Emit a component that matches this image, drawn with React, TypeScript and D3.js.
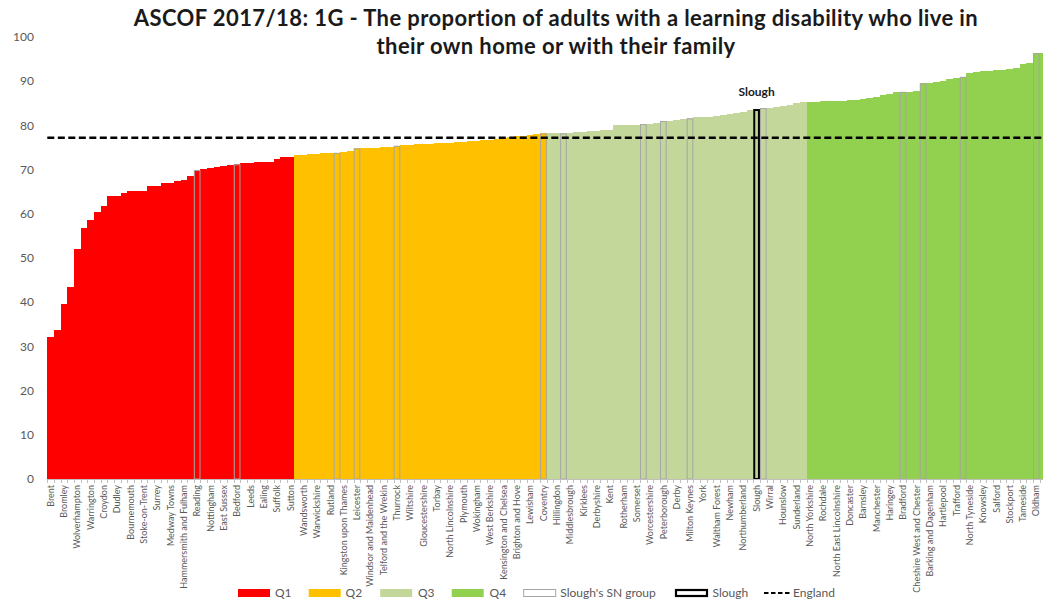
import React from 'react';
import * as d3 from 'd3';

// ---- Data (ranked ascending) ----
const q1Values = [32.1, 33.7, 39.6, 43.5, 52.0, 56.7, 58.6, 60.3, 61.8, 64.0, 64.1, 64.8, 65.1, 65.2, 65.2, 66.3, 66.3, 66.9, 66.9, 67.4, 67.6, 68.6, 69.9, 70.2, 70.4, 70.7, 70.8, 71.1, 71.2, 71.4, 71.6, 71.7, 71.8, 71.8, 72.3, 72.9, 72.9];
const q2Values = [73.2, 73.4, 73.5, 73.6, 73.7, 73.8, 73.8, 74.0, 74.1, 74.8, 74.8, 74.9, 75.0, 75.1, 75.2, 75.4, 75.5, 75.6, 75.7, 75.8, 75.9, 76.0, 76.0, 76.1, 76.2, 76.3, 76.4, 76.5, 76.6, 76.8, 77.0, 77.1, 77.3, 77.5, 77.6, 77.8, 78.0, 78.2];
const q3Values = [78.2, 78.2, 78.2, 78.3, 78.4, 78.5, 78.7, 78.8, 78.9, 79.0, 80.0, 80.1, 80.2, 80.2, 80.3, 80.4, 80.5, 81.0, 81.1, 81.2, 81.4, 81.6, 81.8, 81.9, 82.0, 82.2, 82.4, 82.6, 82.9, 83.1, 83.4, 83.7, 83.9, 84.0, 84.2, 84.4, 84.7, 85.0, 85.2];
const q4Values = [85.4, 85.4, 85.5, 85.5, 85.6, 85.6, 85.7, 85.8, 85.9, 86.2, 86.5, 86.8, 87.2, 87.6, 87.6, 87.6, 87.7, 89.5, 89.7, 89.8, 90.1, 90.6, 90.7, 91.0, 91.8, 92.0, 92.4, 92.4, 92.5, 92.6, 92.7, 92.9, 93.9, 94.2, 96.3, 96.3];

// tick labels shown on every other bar (ranks 1, 3, 5, ...)
const q1Labels = ['Brent', 'Bromley', 'Wolverhampton', 'Warrington', 'Croydon', 'Dudley', 'Bournemouth', 'Stoke-on-Trent', 'Surrey', 'Medway Towns', 'Hammersmith and Fulham', 'Reading', 'Nottingham', 'East Sussex', 'Bedford', 'Leeds', 'Ealing', 'Suffolk', 'Sutton'];
const q2Labels = ['Wandsworth', 'Warwickshire', 'Rutland', 'Kingston upon Thames', 'Leicester', 'Windsor and Maidenhead', 'Telford and the Wrekin', 'Thurrock', 'Wiltshire', 'Gloucestershire', 'Torbay', 'North Lincolnshire', 'Plymouth', 'Wokingham', 'West Berkshire', 'Kensington and Chelsea', 'Brighton and Hove', 'Lewisham', 'Coventry'];
const q3Labels = ['Hillingdon', 'Middlesbrough', 'Kirklees', 'Derbyshire', 'Kent', 'Rotherham', 'Somerset', 'Worcestershire', 'Peterborough', 'Derby', 'Milton Keynes', 'York', 'Waltham Forest', 'Newham', 'Northumberland', 'Slough', 'Wirral', 'Hounslow', 'Sunderland'];
const q4Labels = ['North Yorkshire', 'Rochdale', 'North East Lincolnshire', 'Doncaster', 'Barnsley', 'Manchester', 'Haringey', 'Bradford', 'Cheshire West and Chester', 'Barking and Dagenham', 'Hartlepool', 'Trafford', 'North Tyneside', 'Knowsley', 'Salford', 'Stockport', 'Tameside', 'Oldham'];

const snRanks = [23, 29, 44, 47, 53, 75, 78, 90, 93, 97, 108, 129, 132, 138, 149];
const sloughRank = 107;
const englandValue = 77.2;
const yTicks = [0, 10, 20, 30, 40, 50, 60, 70, 80, 90, 100];
const quartileColors = ['#FF0000', '#FFC000', '#C4D79B', '#92D050'];
const titleLines = [
  'ASCOF 2017/18: 1G - The proportion of adults with a learning disability who live in',
  'their own home or with their family',
];

const W = 1043;
const H = 603;
const FONT = 'Lato, "Open Sans", sans-serif';
const GREY_TEXT = '#595959';

export default function App() {
  const bars = [q1Values, q2Values, q3Values, q4Values].flatMap((vals, q) =>
    vals.map((v) => ({ v, q }))
  ).map((d, i) => ({ ...d, rank: i + 1 }));
  const labels = [...q1Labels, ...q2Labels, ...q3Labels, ...q4Labels];

  const x = d3
    .scaleBand<number>()
    .domain(bars.map((b) => b.rank))
    .range([47.3, 47.3 + 6.66 * bars.length])
    .padding(0);
  const y = d3.scaleLinear().domain([0, 100]).range([479, 37]);
  const bw = x.bandwidth();
  const base = y(0);

  const legendY = 593;
  const legendItems = [
    { kind: 'q', q: 0, sx: 238, tx: 275, text: 'Q1' },
    { kind: 'q', q: 1, sx: 308.7, tx: 345.6, text: 'Q2' },
    { kind: 'q', q: 2, sx: 380.2, tx: 418, text: 'Q3' },
    { kind: 'q', q: 3, sx: 451.7, tx: 489.6, text: 'Q4' },
    { kind: 'sn', q: 0, sx: 523.2, tx: 560.3, text: "Slough's SN group" },
    { kind: 'slough', q: 0, sx: 675, tx: 712.5, text: 'Slough' },
    { kind: 'eng', q: 0, sx: 764, tx: 793, text: 'England' },
  ];

  const sloughBar = bars[sloughRank - 1];

  return (
    <svg
      width={W}
      height={H}
      style={{ position: 'absolute', left: 0, top: 0, background: '#fff', overflow: 'hidden' }}
      fontFamily={FONT}
    >
      {/* title */}
      {titleLines.map((t, i) => (
        <text
          key={i}
          x={556}
          y={26 + i * 28}
          textAnchor="middle"
          fontWeight="bold"
          fontSize={22}
          letterSpacing={0.4}
          fill="#1a1a1a"
        >
          {t}
        </text>
      ))}

      {/* y tick labels */}
      {yTicks.map((t) => (
        <text key={t} x={34} y={y(t)} dy="0.35em" textAnchor="end" fontSize={12} fill={GREY_TEXT}>
          {t}
        </text>
      ))}

      {/* bars */}
      {bars.map((b) => (
        <rect
          key={b.rank}
          x={x(b.rank)}
          y={y(b.v)}
          width={bw + 0.4}
          height={base - y(b.v)}
          fill={quartileColors[b.q]}
          shapeRendering="crispEdges"
        />
      ))}
      {/* SN outlines */}
      {snRanks.map((r) => {
        const b = bars[r - 1];
        return (
          <rect
            key={'sn' + r}
            x={(x(r) as number) + 0.5}
            y={y(b.v) + 0.5}
            width={bw - 1}
            height={base - y(b.v) - 0.5}
            fill="none"
            stroke="#A6A6A6"
            strokeWidth={1}
          />
        );
      })}
      {/* Slough outline */}
      <rect
        x={(x(sloughRank) as number) + 1}
        y={y(sloughBar.v) + 1}
        width={bw - 2}
        height={base - y(sloughBar.v) - 1}
        fill="none"
        stroke="#000"
        strokeWidth={2}
      />
      <text
        x={(x(sloughRank) as number) + bw / 2}
        y={96}
        textAnchor="middle"
        fontWeight="bold"
        fontSize={12}
        fill="#1a1a1a"
      >
        Slough
      </text>

      {/* England line */}
      <line
        x1={47.3}
        x2={W + 5}
        y1={y(englandValue)}
        y2={y(englandValue)}
        stroke="#000"
        strokeWidth={2.5}
        strokeDasharray="7,3.5"
      />

      {/* x axis */}
      <line x1={47.3} x2={W} y1={base + 0.5} y2={base + 0.5} stroke="#BFBFBF" strokeWidth={1} />
      {bars.map((b) => (
        <line
          key={'t' + b.rank}
          x1={Math.round(x(b.rank) as number) + 0.5}
          x2={Math.round(x(b.rank) as number) + 0.5}
          y1={base}
          y2={base + 4}
          stroke="#BFBFBF"
          strokeWidth={1}
        />
      ))}
      {labels.map((l, i) => {
        const r = i * 2 + 1;
        const cx = (x(r) as number) + bw / 2;
        return (
          <text
            key={'l' + i}
            transform={`translate(${cx},485) rotate(-90)`}
            textAnchor="end"
            dy="0.35em"
            fontSize={9}
            fill={GREY_TEXT}
          >
            {l}
          </text>
        );
      })}

      {/* legend */}
      {legendItems.map((it, i) => (
        <g key={'lg' + i}>
          {it.kind === 'q' && (
            <rect x={it.sx} y={legendY - 4} width={32} height={8} fill={quartileColors[it.q]} />
          )}
          {it.kind === 'sn' && (
            <rect x={it.sx + 0.5} y={legendY - 3.5} width={32} height={7} fill="#fff" stroke="#A6A6A6" strokeWidth={1} />
          )}
          {it.kind === 'slough' && (
            <rect x={it.sx + 1} y={legendY - 3} width={31} height={6} fill="#fff" stroke="#000" strokeWidth={2.2} />
          )}
          {it.kind === 'eng' && (
            <line x1={it.sx} x2={it.sx + 26} y1={legendY} y2={legendY} stroke="#000" strokeWidth={2} strokeDasharray="4.5,2.5" />
          )}
          <text x={it.tx} y={legendY} dy="0.35em" fontSize={12} fill={GREY_TEXT}>
            {it.text}
          </text>
        </g>
      ))}
    </svg>
  );
}
